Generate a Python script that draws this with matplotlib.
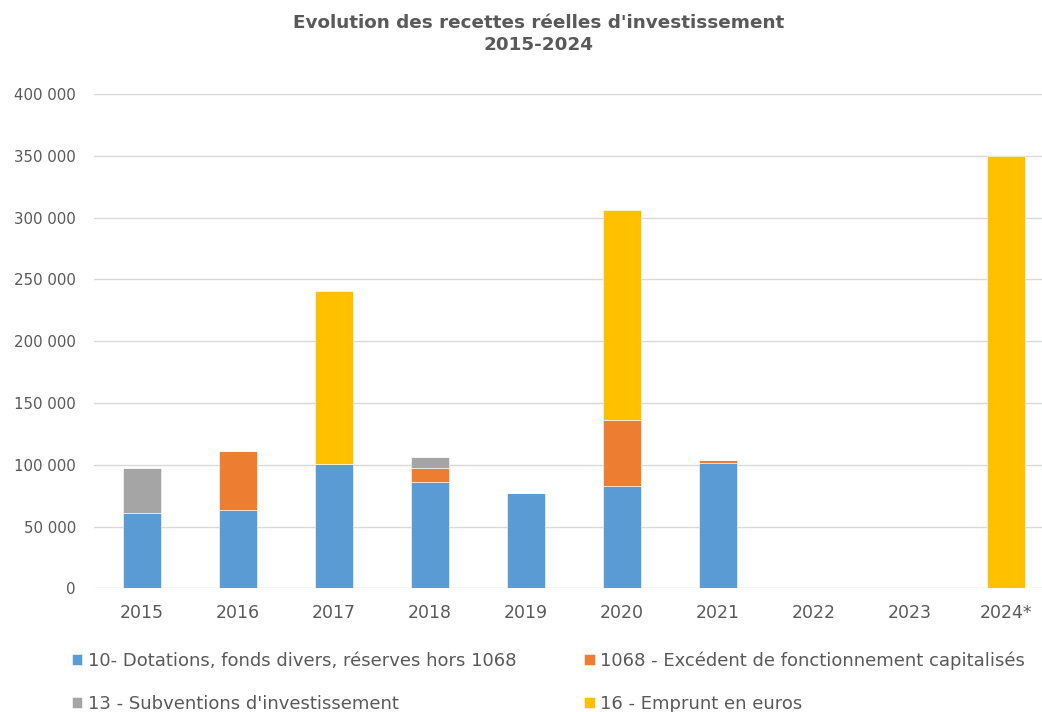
import matplotlib
matplotlib.use("Agg")
import matplotlib.pyplot as plt
import numpy as np
from matplotlib.ticker import FuncFormatter

years = ["2015", "2016", "2017", "2018", "2019", "2020", "2021", "2022", "2023", "2024*"]
dotations = [61000, 63500, 100500, 86000, 77500, 83000, 101000, 0, 0, 0]
excedent = [0, 48000, 0, 11000, 0, 53000, 2500, 0, 0, 0]
subventions = [36000, 0, 0, 9500, 0, 0, 0, 0, 0, 0]
emprunt = [0, 0, 140000, 0, 0, 170000, 0, 0, 0, 350000]

labels = ["10- Dotations, fonds divers, réserves hors 1068",
          "1068 - Excédent de fonctionnement capitalisés",
          "13 - Subventions d'investissement",
          "16 - Emprunt en euros"]
colors = ["#5B9BD5", "#ED7D31", "#A5A5A5", "#FFC000"]

text_color = "#595959"
plt.rcParams['font.family'] = ['DejaVu Sans']

fig = plt.figure(figsize=(10.42, 7.12), dpi=100)
ax = fig.add_axes([94/1042, 1 - 588.3/712, 948/1042, (588.3 - 94)/712])

x = np.arange(len(years))
series = [dotations, excedent, subventions, emprunt]
bottom = np.zeros(len(years))
handles = []
for vals, col, lab in zip(series, colors, labels):
    v = np.array(vals, dtype=float)
    h = ax.bar(x, v, width=0.4, bottom=bottom, color=col, label=lab,
               edgecolor="white", linewidth=0.4, zorder=3)
    handles.append(h)
    bottom += v

ax.set_xlim(-0.5, 9.375)
ax.set_ylim(0, 400000)
ax.set_yticks(np.arange(0, 400001, 50000))
ax.yaxis.set_major_formatter(FuncFormatter(lambda v, p: f"{int(v):,}".replace(",", " ")))
ax.set_xticks(x)
ax.set_xticklabels(years)
ax.grid(axis="y", color="#D9D9D9", linewidth=1, zorder=0)
for s in ax.spines.values():
    s.set_visible(False)
ax.tick_params(axis="both", length=0, colors=text_color)
ax.tick_params(axis="y", labelsize=10.8, pad=13)
ax.tick_params(axis="x", labelsize=12.5, pad=11)

fig.text(0.517, 1 - 14/712, "Evolution des recettes réelles d'investissement\n2015-2024",
         ha="center", va="top", fontsize=13.2, fontweight="bold", color=text_color,
         linespacing=1.3)

order = [0, 2, 1, 3]
leg = fig.legend([handles[i] for i in order], [labels[i] for i in order],
                 loc="upper left", bbox_to_anchor=(72/1042, 1 - 651/712), ncol=2,
                 frameon=False, fontsize=13.0, handlelength=0.58, handleheight=0.58,
                 handletextpad=0.3, columnspacing=3.75, labelspacing=1.4,
                 borderpad=0, borderaxespad=0, labelcolor=text_color)

fig.savefig("out.png", dpi=100, facecolor="white")
